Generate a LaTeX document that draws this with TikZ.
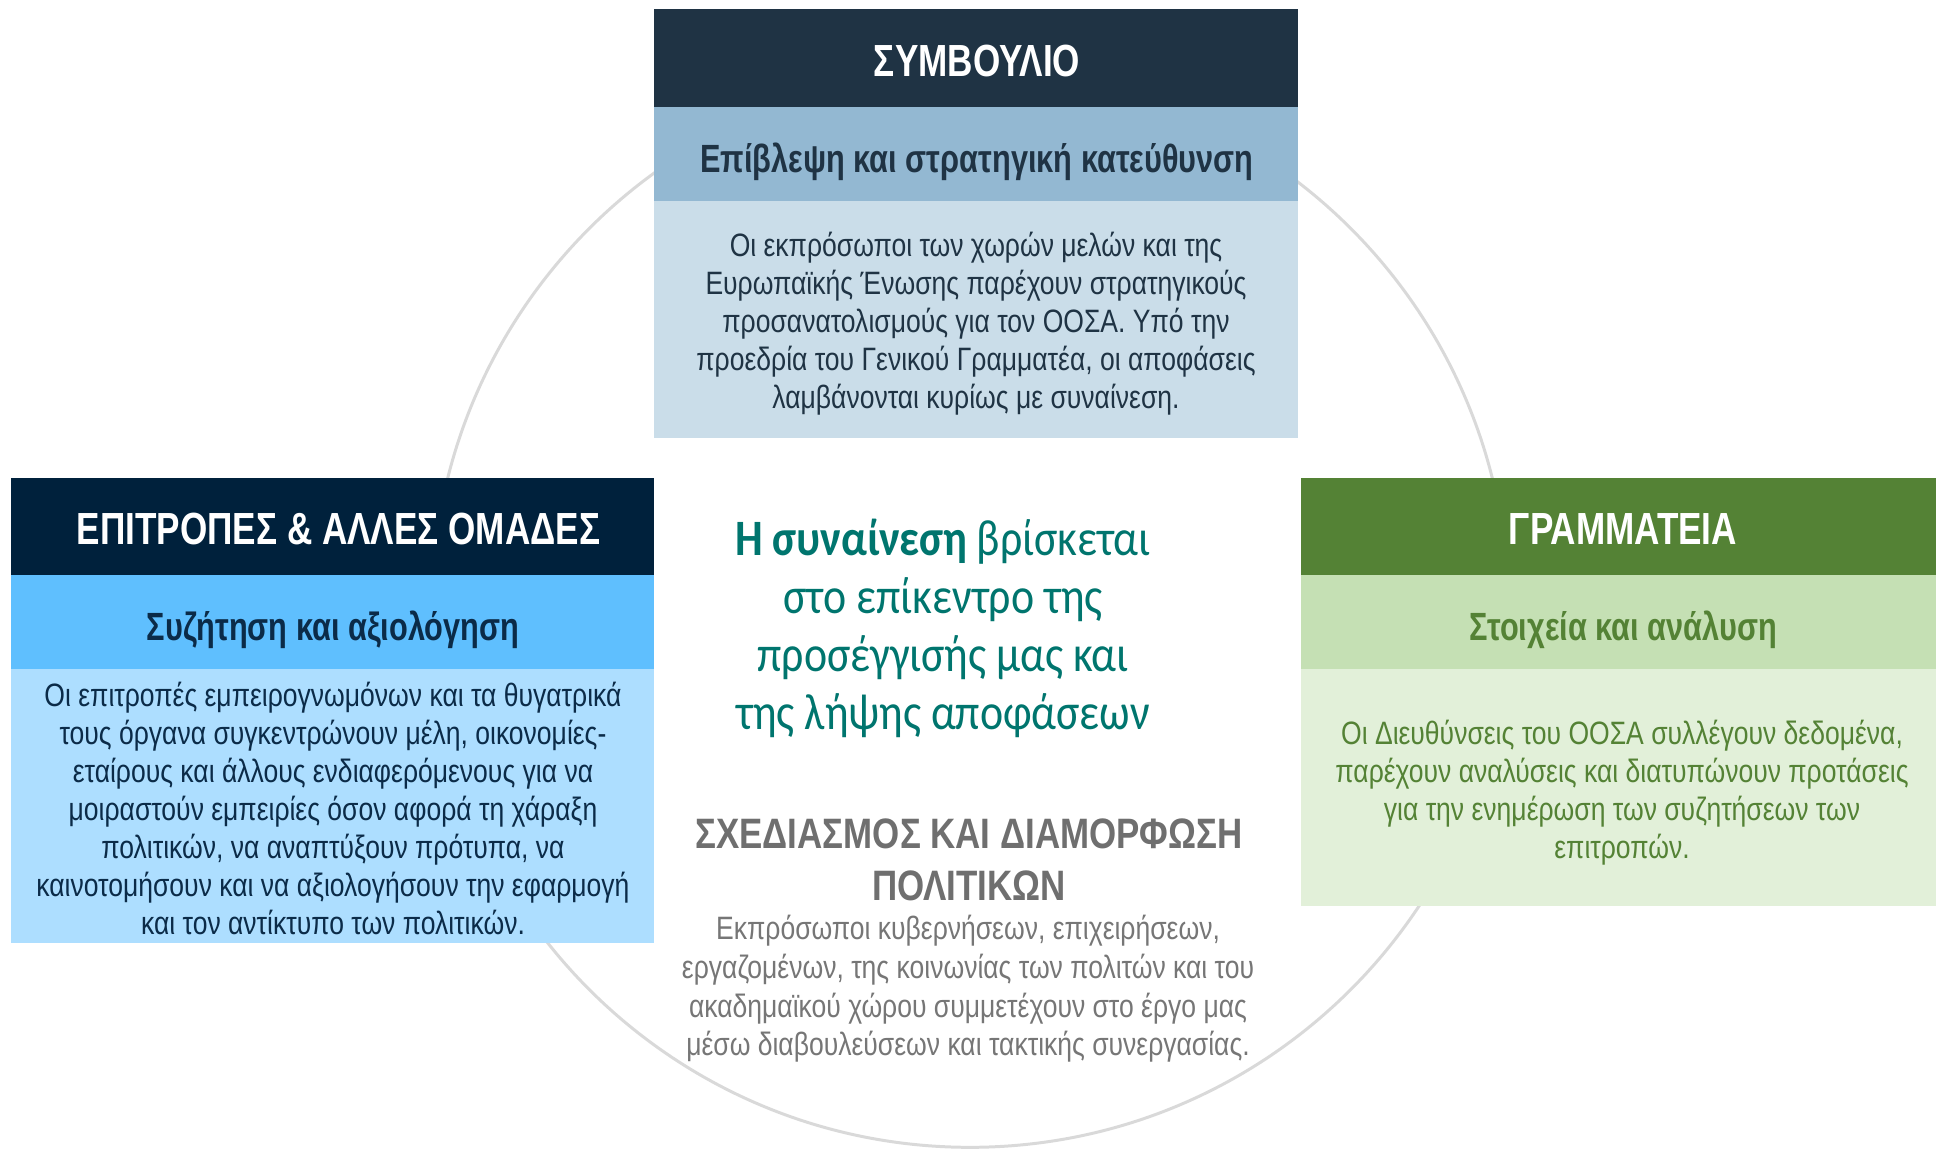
\documentclass[tikz,border=0pt]{standalone}
\usepackage{fontspec}
\setmainfont{Liberation Sans}[FakeStretch=0.82]
\newfontfamily\boldnarrow{Liberation Sans}[FakeStretch=0.78]
\newfontfamily\tealfont{Carlito}[FakeStretch=0.86]
\definecolor{ringgray}{HTML}{D9D9D9}
\definecolor{tophdr}{HTML}{1F3344}
\definecolor{topsub}{HTML}{93B8D2}
\definecolor{topbody}{HTML}{CADDE9}
\definecolor{toptext}{HTML}{1F3344}
\definecolor{lefthdr}{HTML}{00213C}
\definecolor{leftsub}{HTML}{5FBFFE}
\definecolor{leftbody}{HTML}{ADDEFF}
\definecolor{lefttext}{HTML}{0B2B48}
\definecolor{righthdr}{HTML}{548235}
\definecolor{rightsub}{HTML}{C5E0B4}
\definecolor{rightbody}{HTML}{E2F0D9}
\definecolor{righttext}{HTML}{548235}
\definecolor{tealtext}{HTML}{00756E}
\definecolor{graytitle}{HTML}{6F6F6F}
\definecolor{graybody}{HTML}{767676}
\tikzset{
  panel/.style={rectangle, inner sep=0pt, outer sep=0pt},
  txt/.style={inner sep=0pt, outer sep=0pt, align=center},
  hdrtext/.style={txt, text=white, font={\boldnarrow\fontsize{12.8}{14}\selectfont\bfseries}},
  subtext/.style={txt, font={\boldnarrow\fontsize{11.2}{13}\selectfont\bfseries}},
  bodytext/.style={txt, font={\fontsize{9.2}{10.8}\selectfont}},
}
\begin{document}
\begin{tikzpicture}[x=0.01cm,y=-0.01cm]
\useasboundingbox (0,0) rectangle (1936,1148);
% ring
\node[circle, draw=ringgray, line width=0.85pt, minimum size=10.76cm, inner sep=0pt] (ring) at (970,609) {};
% top panel
\node[panel, fill=tophdr, minimum width=6.44cm, minimum height=0.98cm] (tophead) at (976,58) {};
\node[panel, fill=topsub, minimum width=6.44cm, minimum height=0.94cm] (topsubn) at (976,154) {};
\node[panel, fill=topbody, minimum width=6.44cm, minimum height=2.37cm] (topbodyn) at (976,319.5) {};
\node[hdrtext] (topheadt) at (977,60.5) {ΣΥΜΒΟΥΛΙΟ};
\node[subtext, text=toptext] (topsubt) at (977,162) {Επίβλεψη και στρατηγική κατεύθυνση};
\node[bodytext, text=toptext] (topbodyt) at (976,323.5) {Οι εκπρόσωποι των χωρών μελών και της\\ Ευρωπαϊκής Ένωσης παρέχουν στρατηγικούς\\ προσανατολισμούς για τον ΟΟΣΑ. Υπό την\\ προεδρία του Γενικού Γραμματέα, οι αποφάσεις\\ λαμβάνονται κυρίως με συναίνεση.};
% left panel
\node[panel, fill=lefthdr, minimum width=6.43cm, minimum height=0.97cm] (lefthead) at (332.5,526.5) {};
\node[panel, fill=leftsub, minimum width=6.43cm, minimum height=0.94cm] (leftsubn) at (332.5,622) {};
\node[panel, fill=leftbody, minimum width=6.43cm, minimum height=2.74cm] (leftbodyn) at (332.5,806) {};
\node[hdrtext] (leftheadt) at (338.5,529) {ΕΠΙΤΡΟΠΕΣ \& ΑΛΛΕΣ ΟΜΑΔΕΣ};
\node[subtext, text=lefttext] (leftsubt) at (333,630) {Συζήτηση και αξιολόγηση};
\node[bodytext, text=lefttext] (leftbodyt) at (333,808.5) {Οι επιτροπές εμπειρογνωμόνων και τα θυγατρικά\\ τους όργανα συγκεντρώνουν μέλη, οικονομίες-\\ εταίρους και άλλους ενδιαφερόμενους για να\\ μοιραστούν εμπειρίες όσον αφορά τη χάραξη\\ πολιτικών, να αναπτύξουν πρότυπα, να\\ καινοτομήσουν και να αξιολογήσουν την εφαρμογή\\ και τον αντίκτυπο των πολιτικών.};
% right panel
\node[panel, fill=righthdr, minimum width=6.35cm, minimum height=0.97cm] (righthead) at (1618.5,526.5) {};
\node[panel, fill=rightsub, minimum width=6.35cm, minimum height=0.94cm] (rightsubn) at (1618.5,622) {};
\node[panel, fill=rightbody, minimum width=6.35cm, minimum height=2.37cm] (rightbodyn) at (1618.5,787.5) {};
\node[hdrtext] (rightheadt) at (1623,529) {ΓΡΑΜΜΑΤΕΙΑ};
\node[subtext, text=righttext] (rightsubt) at (1623,630) {Στοιχεία και ανάλυση};
\node[bodytext, text=righttext] (rightbodyt) at (1622,792.5) {Οι Διευθύνσεις του ΟΟΣΑ συλλέγουν δεδομένα,\\ παρέχουν αναλύσεις και διατυπώνουν προτάσεις\\ για την ενημέρωση των συζητήσεων των\\ επιτροπών.};
% centre
\node[txt, text=tealtext, font={\tealfont\fontsize{14.5}{16.5}\selectfont}] (centre) at (943,628) {{\bfseries Η συναίνεση} βρίσκεται\\ στο επίκεντρο της\\ προσέγγισής μας και\\ της λήψης αποφάσεων};
\node[txt, text=graytitle, font={\fontsize{12.1}{14.8}\selectfont\bfseries}] (plantitle) at (969,860) {ΣΧΕΔΙΑΣΜΟΣ ΚΑΙ ΔΙΑΜΟΡΦΩΣΗ\\ ΠΟΛΙΤΙΚΩΝ};
\node[txt, text=graybody, font={\fontsize{9.2}{11}\selectfont}] (planbody) at (968,989) {Εκπρόσωποι κυβερνήσεων, επιχειρήσεων,\\ εργαζομένων, της κοινωνίας των πολιτών και του\\ ακαδημαϊκού χώρου συμμετέχουν στο έργο μας\\ μέσω διαβουλεύσεων και τακτικής συνεργασίας.};
\end{tikzpicture}
\end{document}
